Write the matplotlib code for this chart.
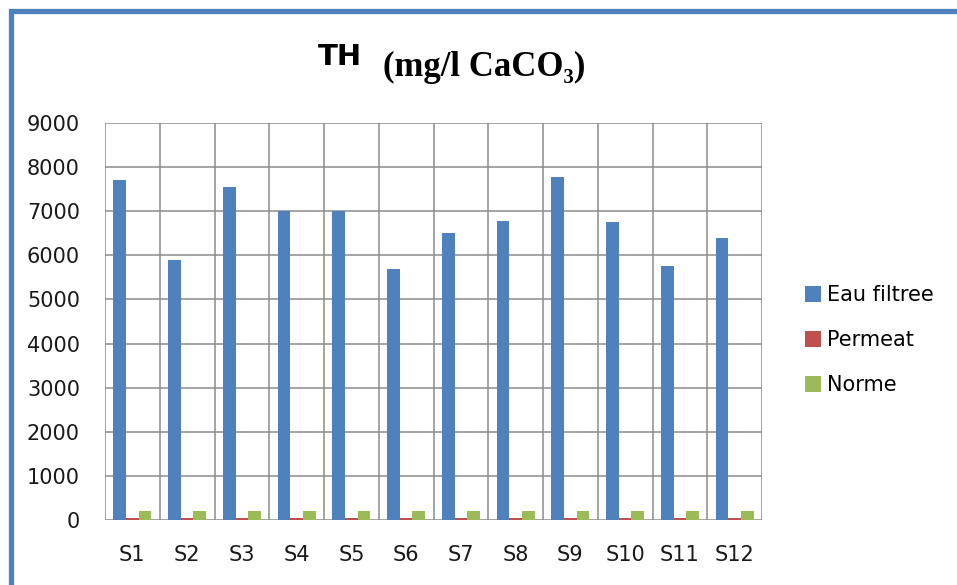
import matplotlib
matplotlib.use("Agg")
import matplotlib.pyplot as plt
from matplotlib.patches import Rectangle
import numpy as np

samples = ['S1', 'S2', 'S3', 'S4', 'S5', 'S6', 'S7', 'S8', 'S9', 'S10', 'S11', 'S12']
eau_filtree = [7700, 5900, 7550, 7000, 7000, 5700, 6500, 6780, 7780, 6750, 5750, 6400]
permeat = [40, 40, 40, 40, 40, 40, 40, 40, 40, 40, 40, 40]
norme = [200, 200, 200, 200, 200, 200, 200, 200, 200, 200, 200, 200]
yticks = [0, 1000, 2000, 3000, 4000, 5000, 6000, 7000, 8000, 9000]

plt.rcParams['font.family'] = ['DejaVu Sans']

fig = plt.figure(figsize=(9.57, 5.85), dpi=100)
ax = fig.add_axes([105/957, 1-520/585, (762-105)/957, (520-123)/585])

x = np.arange(len(samples))
w = 0.23
ax.bar(x - w, eau_filtree, w, color='#4F81BD', label='Eau filtree', zorder=3)
ax.bar(x, permeat, w, color='#C0504D', label='Permeat', zorder=3)
ax.bar(x + w, norme, w, color='#9BBB59', label='Norme', zorder=3)

ax.set_xlim(-0.5, len(samples) - 0.5)
ax.set_ylim(0, 9000)
ax.set_yticks(yticks)
ax.set_xticks(x)
ax.set_xticklabels(samples)
ax.tick_params(length=0, labelsize=15, colors='#1a1a1a')
ax.tick_params(axis='y', pad=18)
ax.tick_params(axis='x', pad=18)

# gridlines: horizontal at each tick, vertical at category boundaries
for yv in yticks:
    ax.axhline(yv, color='#8c8c8c', lw=1.1, zorder=1)
for b in np.arange(-0.5, len(samples), 1.0):
    ax.axvline(b, color='#8c8c8c', lw=1.1, zorder=1)
for s in ax.spines.values():
    s.set_visible(False)

ax.legend(loc='center left', bbox_to_anchor=(1.05, 0.453), frameon=False,
          fontsize=15, handlelength=0.75, handleheight=0.75,
          handletextpad=0.3, labelspacing=1.2, borderpad=0)

# title in two parts
fig.text(318/957, 1-65/585, 'TH', fontsize=21, fontweight='bold',
         family=['DejaVu Sans'], va='baseline', ha='left')
fig.text(383/957, 1-76/585, '(mg/l CaCO\u2083)', fontsize=25, fontweight='bold',
         family=['Liberation Serif', 'DejaVu Serif'], va='baseline', ha='left')

# blue frame around the chart (runs off right/bottom edge)
fig.add_artist(Rectangle((10.5/957, -0.2), 1.3, 1 - 10.5/585 + 0.2,
                         transform=fig.transFigure, fill=False,
                         edgecolor='#4F81BD', lw=3.8, clip_on=False))

fig.savefig('out.png', dpi=100)
